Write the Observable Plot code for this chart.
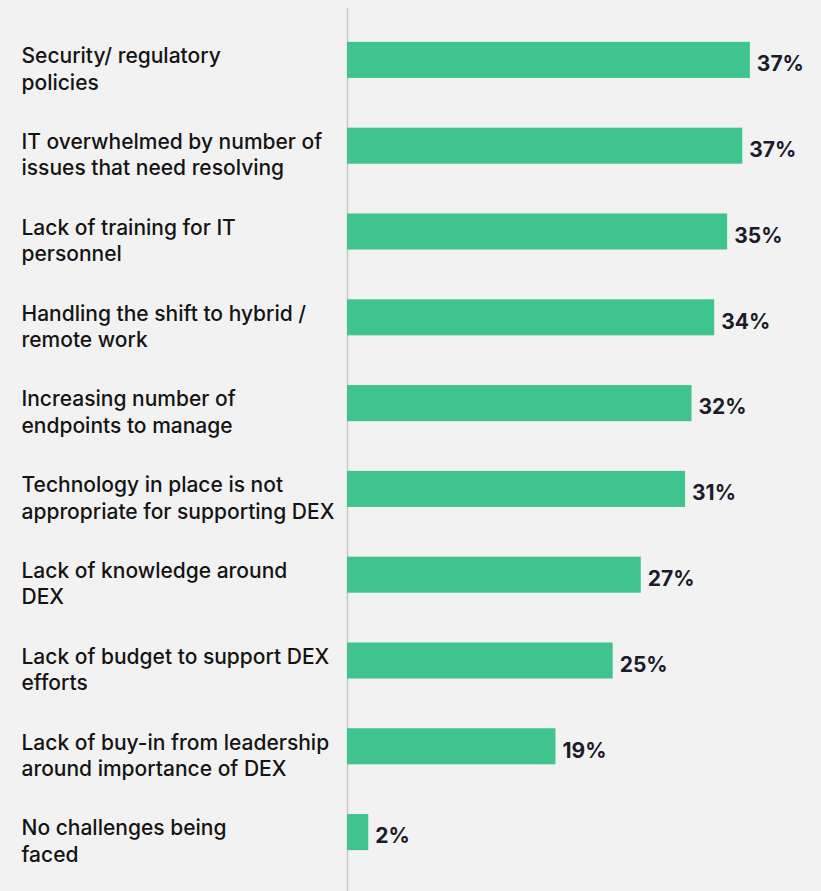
<!DOCTYPE html>
<html>
<head>
<meta charset="utf-8">
<script src="https://cdn.jsdelivr.net/npm/d3@7"></script>
<script src="https://cdn.jsdelivr.net/npm/@observablehq/plot@0.6"></script>
<style>
  html, body { margin: 0; padding: 0; background: #f2f2f2; }
  #chart svg { display: block; }
</style>
</head>
<body>
<div id="chart"></div>
<script>
const categories = [
  "Security/ regulatory\npolicies",
  "IT overwhelmed by number of\nissues that need resolving",
  "Lack of training for IT\npersonnel",
  "Handling the shift to hybrid /\nremote work",
  "Increasing number of\nendpoints to manage",
  "Technology in place is not\nappropriate for supporting DEX",
  "Lack of knowledge around\nDEX",
  "Lack of budget to support DEX\nefforts",
  "Lack of buy-in from leadership\naround importance of DEX",
  "No challenges being\nfaced"
];
const values = [37.3, 36.6, 35.2, 34.0, 31.9, 31.3, 27.2, 24.6, 19.3, 1.97];
const valueLabels = ["37%", "37%", "35%", "34%", "32%", "31%", "27%", "25%", "19%", "2%"];

const data = categories.map((c, i) => ({category: c, value: values[i], label: valueLabels[i]}));

const chart = Plot.plot({
  width: 821,
  height: 891,
  marginLeft: 347,
  marginRight: 42,
  marginTop: 8,
  marginBottom: 0,
  style: {background: "#f2f2f2", fontFamily: "Inter, sans-serif"},
  x: {domain: [0, 40], axis: null},
  y: {domain: categories, axis: null, paddingInner: 0.58, paddingOuter: 0.29, insetTop: 9, insetBottom: 16, round: false},
  marks: [
    Plot.ruleX([0], {stroke: "#c8c8c8", strokeWidth: 1.5}),
    Plot.barX(data, {x: "value", y: "category", fill: "#3ec48c"}),
    Plot.text(data, {
      y: "category", text: "category", frameAnchor: "left", textAnchor: "start",
      dx: -326, dy: -16, lineAnchor: "top", lineHeight: 1.26,
      fontSize: 21, fontWeight: 500, fill: "#141414"
    }),
    Plot.text(data, {
      x: "value", y: "category", text: "label", textAnchor: "start",
      dx: 6.5, dy: 4, fontSize: 21, fontWeight: 700, fill: "#1b1b2a"
    })
  ]
});
document.getElementById("chart").append(chart);
</script>
</body>
</html>
